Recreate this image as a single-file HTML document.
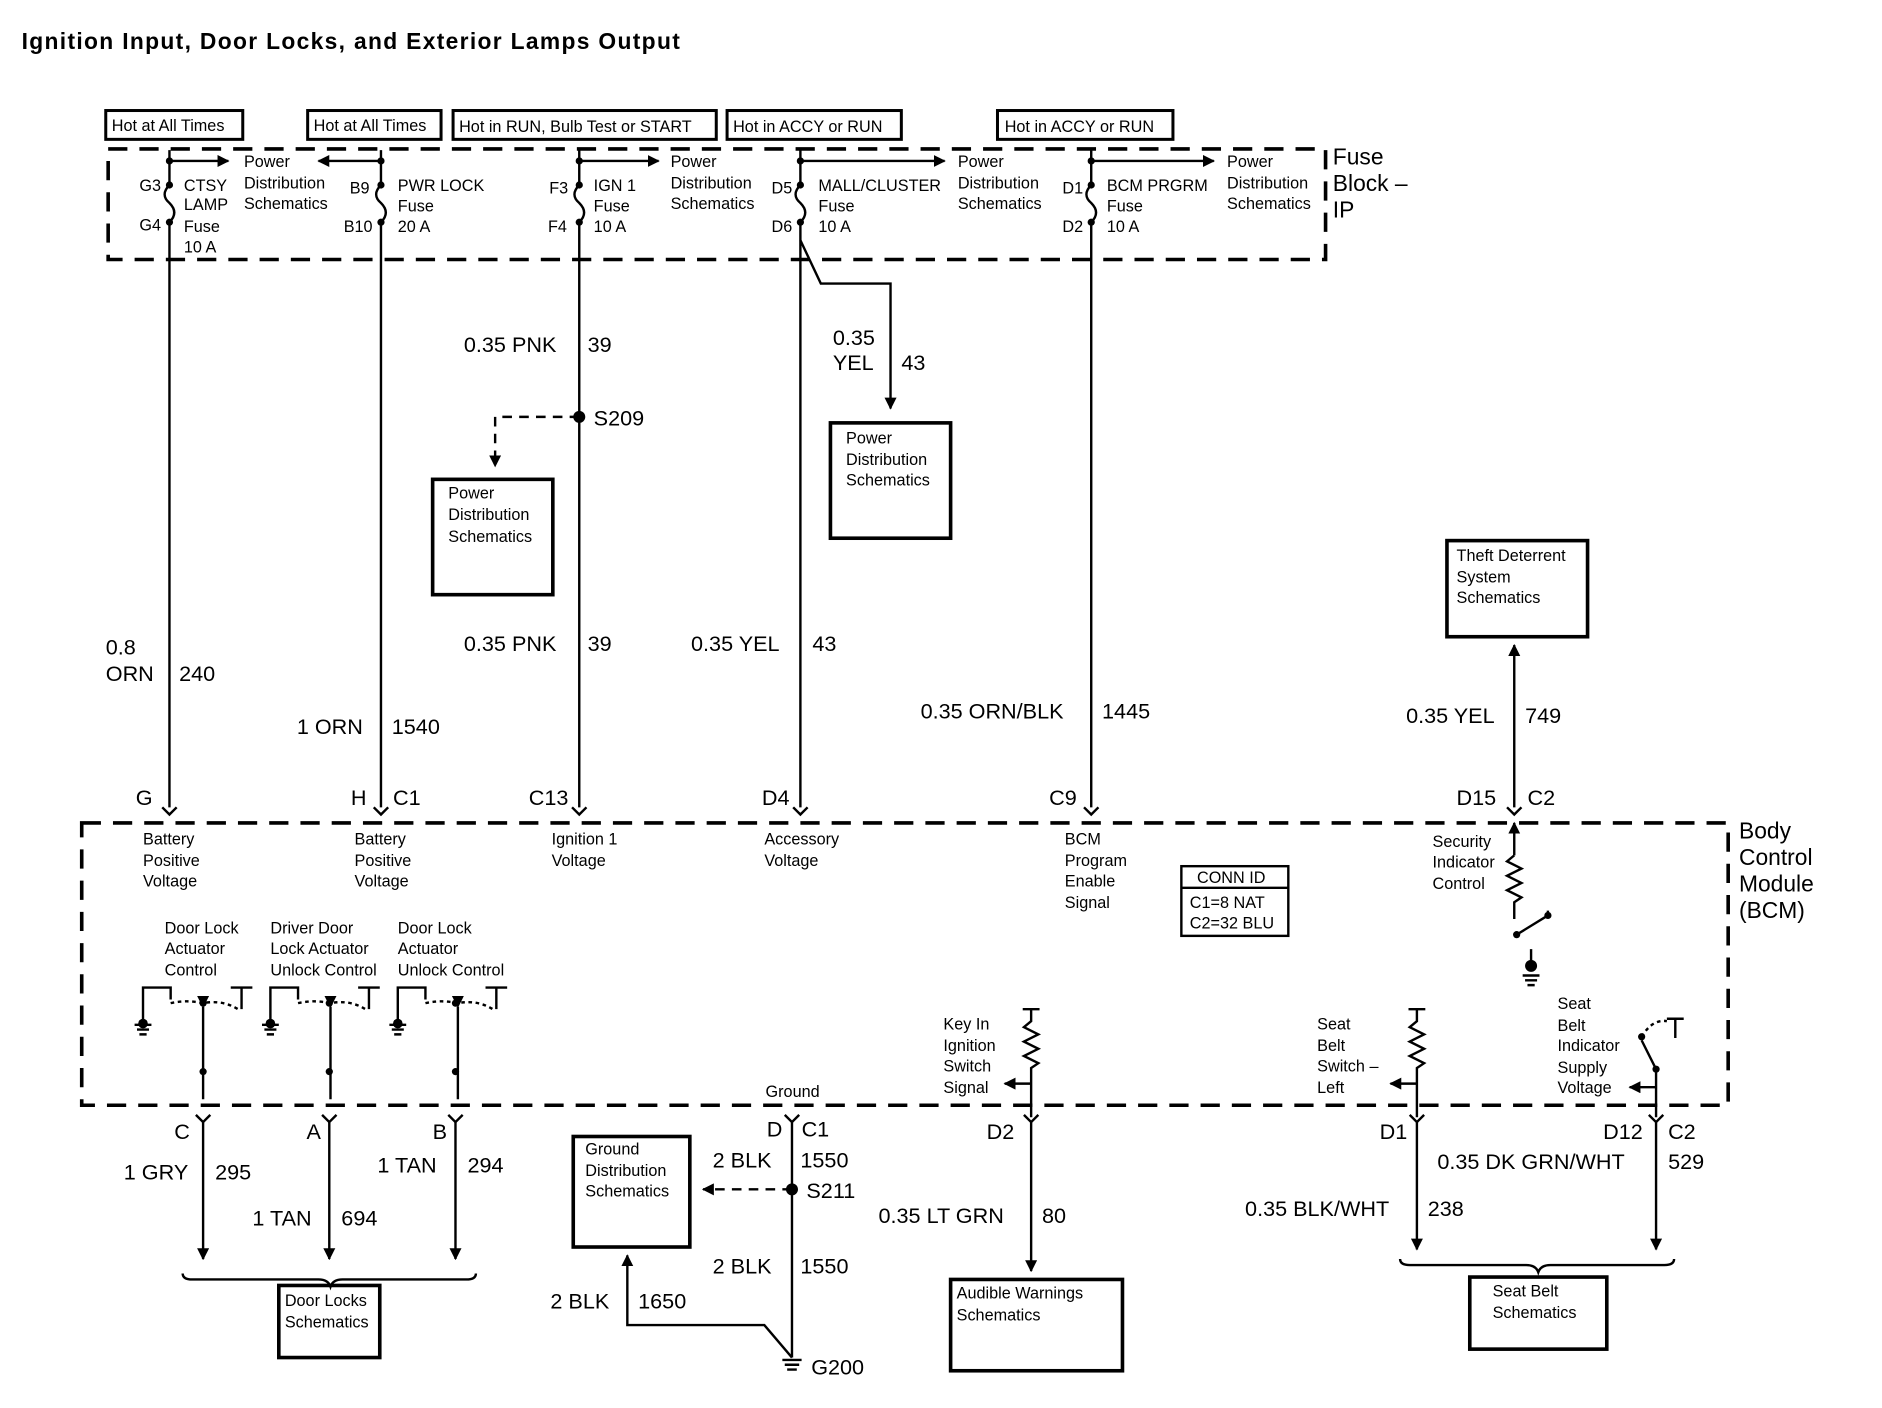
<!DOCTYPE html>
<html><head><meta charset="utf-8"><style>
html,body{margin:0;padding:0;background:#fff}
svg{display:block}
text{font-family:"Liberation Sans",Arial,sans-serif;fill:#000}
.s{font-size:13.5px}
.m{font-size:18px}
.b{font-size:19px}
</style></head><body>
<svg width="1882" height="1408" viewBox="0 0 1566 1172" preserveAspectRatio="none" xmlns="http://www.w3.org/2000/svg">
<defs>
<marker id="ar" markerWidth="10" markerHeight="10" refX="9" refY="5" orient="auto" markerUnits="userSpaceOnUse"><path d="M0,0 L10,5 L0,10 z"/></marker>
</defs>
<rect width="1600" height="1200" fill="#fff"/>
<text x="18" y="41" style="font-size:19px;font-weight:bold;letter-spacing:1.1px">Ignition Input, Door Locks, and Exterior Lamps Output</text>
<g fill="none" stroke="#000" stroke-width="2.5">
<rect x="88" y="92" width="114" height="24"/>
<rect x="256" y="92" width="111" height="24"/>
<rect x="377" y="92" width="219" height="24"/>
<rect x="605" y="92" width="145" height="24"/>
<rect x="830" y="92" width="146" height="24"/>
</g>
<g class="s">
<text x="93" y="109">Hot at All Times</text>
<text x="261" y="109">Hot at All Times</text>
<text x="382" y="110">Hot in RUN, Bulb Test or START</text>
<text x="610" y="110">Hot in ACCY or RUN</text>
<text x="836" y="110">Hot in ACCY or RUN</text>
</g>
<g fill="none" stroke="#000" stroke-width="3" stroke-dasharray="16,10">
<rect x="90" y="124" width="1013" height="92"/>
<rect x="68" y="685" width="1370" height="235"/>
</g>
<text x="1109" y="137" class="b">Fuse</text>
<text x="1109" y="159" class="b">Block –</text>
<text x="1109" y="181" class="b">IP</text>
<text x="1447" y="698" class="b">Body</text>
<text x="1447" y="720" class="b">Control</text>
<text x="1447" y="742" class="b">Module</text>
<text x="1447" y="764" class="b">(BCM)</text>
<g stroke="#000" stroke-width="2" fill="none">
<path d="M141 125V154 M141 185V672"/>
<path d="M317 125V154 M317 185V672"/>
<path d="M482 125V154 M482 185V672"/>
<path d="M666 125V154 M666 185V672"/>
<path d="M908 125V154 M908 185V672"/>
<path d="M1260 545V672"/>
<path d="M141 154 q-8 8 0 15 q8 8 0 16"/>
<path d="M317 154 q-8 8 0 15 q8 8 0 16"/>
<path d="M482 154 q-8 8 0 15 q8 8 0 16"/>
<path d="M666 154 q-8 8 0 15 q8 8 0 16"/>
<path d="M908 154 q-8 8 0 15 q8 8 0 16"/>
<path d="M141 134H190" marker-end="url(#ar)"/>
<path d="M317 134H265" marker-end="url(#ar)"/>
<path d="M482 134H548" marker-end="url(#ar)"/>
<path d="M666 134H786" marker-end="url(#ar)"/>
<path d="M908 134H1010" marker-end="url(#ar)"/>
<path d="M666 200 L683 236 H741 V340" marker-end="url(#ar)"/>
<path d="M482 347 H412 V388" stroke-dasharray="8,6" marker-end="url(#ar)"/>
<path d="M1260 545 V537" marker-end="url(#ar)"/>
</g>
<g fill="#000">
<circle cx="141" cy="134" r="3"/><circle cx="317" cy="134" r="3"/><circle cx="482" cy="134" r="3"/><circle cx="666" cy="134" r="3"/><circle cx="908" cy="134" r="3"/>
<circle cx="141" cy="154" r="3"/><circle cx="317" cy="154" r="3"/><circle cx="482" cy="154" r="3"/><circle cx="666" cy="154" r="3"/><circle cx="908" cy="154" r="3"/>
<circle cx="141" cy="185" r="3"/><circle cx="317" cy="185" r="3"/><circle cx="482" cy="185" r="3"/><circle cx="666" cy="185" r="3"/><circle cx="908" cy="185" r="3"/>
<circle cx="482" cy="347" r="5"/>
<circle cx="659" cy="990" r="5"/>
</g>
<g class="s">
<text x="116" y="159">G3</text><text x="116" y="192">G4</text>
<text x="153" y="159">CTSY</text><text x="153" y="175">LAMP</text><text x="153" y="193">Fuse</text><text x="153" y="210">10 A</text>
<text x="203" y="139">Power</text><text x="203" y="157">Distribution</text><text x="203" y="174">Schematics</text>
<text x="291" y="161">B9</text><text x="286" y="193">B10</text>
<text x="331" y="159">PWR LOCK</text><text x="331" y="176">Fuse</text><text x="331" y="193">20 A</text>
<text x="457" y="161">F3</text><text x="456" y="193">F4</text>
<text x="494" y="159">IGN 1</text><text x="494" y="176">Fuse</text><text x="494" y="193">10 A</text>
<text x="558" y="139">Power</text><text x="558" y="157">Distribution</text><text x="558" y="174">Schematics</text>
<text x="642" y="161">D5</text><text x="642" y="193">D6</text>
<text x="681" y="159">MALL/CLUSTER</text><text x="681" y="176">Fuse</text><text x="681" y="193">10 A</text>
<text x="797" y="139">Power</text><text x="797" y="157">Distribution</text><text x="797" y="174">Schematics</text>
<text x="884" y="161">D1</text><text x="884" y="193">D2</text>
<text x="921" y="159">BCM PRGRM</text><text x="921" y="176">Fuse</text><text x="921" y="193">10 A</text>
<text x="1021" y="139">Power</text><text x="1021" y="157">Distribution</text><text x="1021" y="174">Schematics</text>
</g>
<g class="m">
<text x="386" y="293">0.35 PNK</text><text x="489" y="293">39</text>
<text x="494" y="354">S209</text>
<text x="693" y="287">0.35</text><text x="693" y="308">YEL</text><text x="750" y="308">43</text>
<text x="386" y="542">0.35 PNK</text><text x="489" y="542">39</text>
<text x="575" y="542">0.35 YEL</text><text x="676" y="542">43</text>
<text x="88" y="545">0.8</text><text x="88" y="567">ORN</text><text x="149" y="567">240</text>
<text x="247" y="611">1 ORN</text><text x="326" y="611">1540</text>
<text x="766" y="598">0.35 ORN/BLK</text><text x="917" y="598">1445</text>
<text x="1170" y="602">0.35 YEL</text><text x="1269" y="602">749</text>
<text x="113" y="670">G</text><text x="292" y="670">H</text><text x="327" y="670">C1</text>
<text x="440" y="670">C13</text><text x="634" y="670">D4</text><text x="873" y="670">C9</text>
<text x="1212" y="670">D15</text><text x="1271" y="670">C2</text>
</g>
<g stroke="#000" stroke-width="2" fill="none">
<path d="M135 672l6 6 6-6 M311 672l6 6 6-6 M476 672l6 6 6-6 M660 672l6 6 6-6 M902 672l6 6 6-6 M1254 672l6 6 6-6"/>
</g>
<g fill="none" stroke="#000" stroke-width="3">
<rect x="360" y="399" width="100" height="96"/>
<rect x="691" y="352" width="100" height="96"/>
<rect x="1204" y="450" width="117" height="80"/>
<rect x="477" y="946" width="97" height="92"/>
<rect x="232" y="1070" width="84" height="60"/>
<rect x="791" y="1065" width="143" height="76"/>
<rect x="1223" y="1063" width="114" height="60"/>
<rect x="983" y="721" width="89" height="58" stroke-width="2"/>
<line x1="983" y1="739" x2="1072" y2="739" stroke-width="2"/>
</g>
<g class="s">
<text x="373" y="415">Power</text><text x="373" y="433">Distribution</text><text x="373" y="451">Schematics</text>
<text x="704" y="369">Power</text><text x="704" y="387">Distribution</text><text x="704" y="404">Schematics</text>
<text x="1212" y="467">Theft Deterrent</text><text x="1212" y="485">System</text><text x="1212" y="502">Schematics</text>
<text x="487" y="961">Ground</text><text x="487" y="979">Distribution</text><text x="487" y="996">Schematics</text>
<text x="237" y="1087">Door Locks</text><text x="237" y="1105">Schematics</text>
<text x="796" y="1081">Audible Warnings</text><text x="796" y="1099">Schematics</text>
<text x="1242" y="1079">Seat Belt</text><text x="1242" y="1097">Schematics</text>
<text x="996" y="735">CONN ID</text><text x="990" y="756">C1=8 NAT</text><text x="990" y="773">C2=32 BLU</text>
<text x="119" y="703">Battery</text><text x="119" y="721">Positive</text><text x="119" y="738">Voltage</text>
<text x="295" y="703">Battery</text><text x="295" y="721">Positive</text><text x="295" y="738">Voltage</text>
<text x="459" y="703">Ignition 1</text><text x="459" y="721">Voltage</text>
<text x="636" y="703">Accessory</text><text x="636" y="721">Voltage</text>
<text x="886" y="703">BCM</text><text x="886" y="721">Program</text><text x="886" y="738">Enable</text><text x="886" y="756">Signal</text>
<text x="1192" y="705">Security</text><text x="1192" y="722">Indicator</text><text x="1192" y="740">Control</text>
<text x="137" y="777">Door Lock</text><text x="137" y="794">Actuator</text><text x="137" y="812">Control</text>
<text x="225" y="777">Driver Door</text><text x="225" y="794">Lock Actuator</text><text x="225" y="812">Unlock Control</text>
<text x="331" y="777">Door Lock</text><text x="331" y="794">Actuator</text><text x="331" y="812">Unlock Control</text>
<text x="785" y="857">Key In</text><text x="785" y="875">Ignition</text><text x="785" y="892">Switch</text><text x="785" y="910">Signal</text>
<text x="1096" y="857">Seat</text><text x="1096" y="875">Belt</text><text x="1096" y="892">Switch –</text><text x="1096" y="910">Left</text>
<text x="1296" y="840">Seat</text><text x="1296" y="858">Belt</text><text x="1296" y="875">Indicator</text><text x="1296" y="893">Supply</text><text x="1296" y="910">Voltage</text>
<text x="637" y="913">Ground</text>
</g>
<g stroke="#000" stroke-width="2" fill="none">
<g>
<path d="M119 850V822H142V832"/>
<path d="M142 835 Q155 832 169 835 Q185 832 198 840" stroke-dasharray="3,3"/>
<path d="M192 822H210 M201 822V840"/>
<path d="M169 838V915" marker-start="url(#ar)"/>
<path d="M112 853h14 M114 857h10 M116 861h6"/>
</g>
<g transform="translate(106,0)">
<path d="M119 850V822H142V832"/>
<path d="M142 835 Q155 832 169 835 Q185 832 198 840" stroke-dasharray="3,3"/>
<path d="M192 822H210 M201 822V840"/>
<path d="M169 838V915" marker-start="url(#ar)"/>
<path d="M112 853h14 M114 857h10 M116 861h6"/>
</g>
<g transform="translate(212,0)">
<path d="M119 850V822H142V832"/>
<path d="M142 835 Q155 832 169 835 Q185 832 198 840" stroke-dasharray="3,3"/>
<path d="M192 822H210 M201 822V840"/>
<path d="M169 838V915" marker-start="url(#ar)"/>
<path d="M112 853h14 M114 857h10 M116 861h6"/>
</g>
<path d="M1260 712V685" marker-end="url(#ar)"/>
<path d="M1260 712 l-6 5 12 6 -12 6 12 6 -12 6 12 6 -6 4 V765"/>
<path d="M1262 778 L1288 762 M1288 762 V758"/>
<path d="M1274 790V808 M1267 812h14 M1269 816h10 M1271 820h6"/>
<path d="M851 840h14 M858 840V850 l-6 5 12 6 -12 6 12 6 -12 6 12 6 -6 4 V930"/>
<path d="M858 902H836" marker-end="url(#ar)"/>
<path d="M1172 840h14 M1179 840V850 l-6 5 12 6 -12 6 12 6 -12 6 12 6 -6 4 V930"/>
<path d="M1179 902H1157" marker-end="url(#ar)"/>
<path d="M1378 930V890 L1366 866 M1387 848h14 M1394 848V864"/>
<path d="M1366 863 Q1375 848 1387 850" stroke-dasharray="3,3"/>
<path d="M1378 905H1356" marker-end="url(#ar)"/>
<path d="M163 928l6 6 6-6 M268 928l6 6 6-6 M373 928l6 6 6-6 M653 928l6 6 6-6 M852 928l6 6 6-6 M1173 928l6 6 6-6 M1372 928l6 6 6-6"/>
<path d="M169 934V1048" marker-end="url(#ar)"/>
<path d="M274 934V1048" marker-end="url(#ar)"/>
<path d="M379 934V1048" marker-end="url(#ar)"/>
<path d="M659 934V1130"/>
<path d="M659 990H585" stroke-dasharray="8,6" marker-end="url(#ar)"/>
<path d="M659 1130 L636 1103 H522 V1045" marker-end="url(#ar)"/>
<path d="M858 934V1058" marker-end="url(#ar)"/>
<path d="M1179 934V1040" marker-end="url(#ar)"/>
<path d="M1378 934V1040" marker-end="url(#ar)"/>
<path d="M651 1132h16 M653 1136h12 M655 1140h8"/>
<path d="M152 1060 q0 5 8 5 H265 q8 0 10 6 q2 -6 10 -6 H388 q8 0 8 -5"/>
<path d="M1165 1048 q0 5 8 5 H1270 q8 0 10 6 q2 -6 10 -6 H1385 q8 0 8 -5"/>
</g>
<g fill="#000">
<circle cx="169" cy="835" r="3"/><circle cx="169" cy="892" r="3"/>
<circle cx="274" cy="835" r="3"/><circle cx="274" cy="892" r="3"/>
<circle cx="379" cy="835" r="3"/><circle cx="379" cy="892" r="3"/>
<circle cx="119" cy="852" r="4"/><circle cx="225" cy="852" r="4"/><circle cx="331" cy="852" r="4"/>
<circle cx="1274" cy="804" r="5"/><circle cx="1262" cy="778" r="3"/><circle cx="1288" cy="762" r="3"/>
<circle cx="1366" cy="863" r="3"/><circle cx="1378" cy="890" r="3"/>
</g>
<g class="m">
<text x="145" y="948">C</text><text x="255" y="948">A</text><text x="360" y="948">B</text>
<text x="638" y="946">D</text><text x="667" y="946">C1</text>
<text x="821" y="948">D2</text><text x="1148" y="948">D1</text><text x="1334" y="948">D12</text><text x="1388" y="948">C2</text>
<text x="103" y="982">1 GRY</text><text x="179" y="982">295</text>
<text x="210" y="1020">1 TAN</text><text x="284" y="1020">694</text>
<text x="314" y="976">1 TAN</text><text x="389" y="976">294</text>
<text x="593" y="972">2 BLK</text><text x="666" y="972">1550</text>
<text x="671" y="997">S211</text>
<text x="593" y="1060">2 BLK</text><text x="666" y="1060">1550</text>
<text x="458" y="1089">2 BLK</text><text x="531" y="1089">1650</text>
<text x="675" y="1144">G200</text>
<text x="731" y="1018">0.35 LT GRN</text><text x="867" y="1018">80</text>
<text x="1036" y="1012">0.35 BLK/WHT</text><text x="1188" y="1012">238</text>
<text x="1196" y="973">0.35 DK GRN/WHT</text><text x="1388" y="973">529</text>
</g>
</svg>
</body></html>
